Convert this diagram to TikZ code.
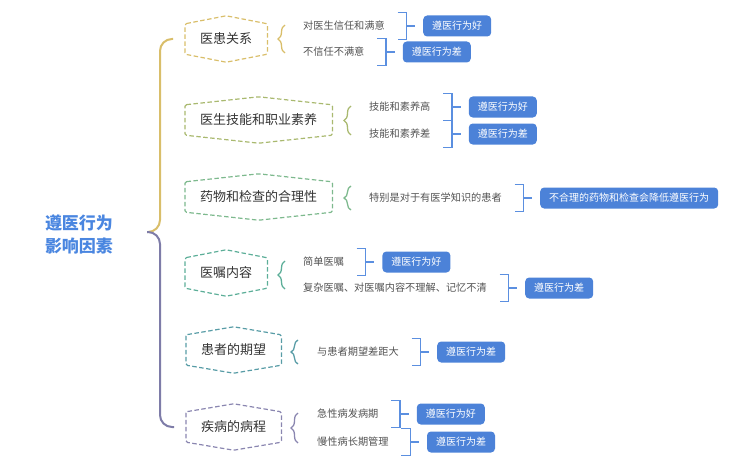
\documentclass[tikz,border=0pt]{standalone}
\usepackage{fontspec}
\newfontfamily\cjk{Noto Sans CJK SC}
\usetikzlibrary{positioning,calc,decorations.pathreplacing}

\definecolor{rootblue}{HTML}{4A86E0}
\definecolor{boxblue}{HTML}{4C82D8}
\definecolor{linkblue}{HTML}{5B8FE0}
\definecolor{relC}{HTML}{D9BE6A}
\definecolor{skillC}{HTML}{A9B96F}
\definecolor{drugC}{HTML}{7DB98D}
\definecolor{orderC}{HTML}{5CAE98}
\definecolor{hopeC}{HTML}{589CA6}
\definecolor{courseC}{HTML}{8A86B0}
\definecolor{spineC}{HTML}{7E7CA8}

\tikzset{
  factor/.style={font=\cjk\fontsize{13}{15}\selectfont, text=black!80, inner xsep=15pt, inner ysep=0pt, minimum height=46pt, anchor=west},
  reason/.style={font=\cjk\fontsize{10.2}{12}\selectfont, text=black!68, inner sep=0pt, anchor=west},
  result/.style={font=\cjk\fontsize{10}{12}\selectfont, text=white, fill=boxblue, rounded corners=4pt, inner xsep=9pt, inner ysep=0pt, minimum height=21pt, right=38pt of #1},
  hexline/.style={dash pattern=on 4.5pt off 2.5pt, line width=1.2pt, rounded corners=1.5pt},
  curly/.style={decorate, decoration={brace, amplitude=7pt}, line width=1.3pt},
  bracket/.style={draw=linkblue, line width=1.4pt},
}

\newcommand\hexframe[2]{\draw[hexline,#2] ([yshift=-8pt]#1.north west) -- (#1.north) -- ([yshift=-8pt]#1.north east) -- ([yshift=8pt]#1.south east) -- (#1.south) -- ([yshift=8pt]#1.south west) -- cycle;}
\newcommand\linkto[2]{\draw[bracket] ($(#1.east)+(12.5,-13.5)$) -- ++(9,0) -- ++(0,27) -- ++(-9,0);
  \draw[bracket] ($(#1.east)+(21.5,0)$) -- ($(#2.west)+(-8,0)$);}

\begin{document}
\begin{tikzpicture}[x=1pt,y=-1pt]
  \useasboundingbox (0,0) rectangle (750,460);

  % root and spine
  \node[font=\cjk\bfseries\fontsize{17}{23}\selectfont, text=rootblue, align=center] (root) at (79,234) {遵医行为\\影响因素};
  \coordinate (hub) at (147,232);

  \node[factor] (b1) at (185,39) {医患关系};
  \node[factor] (b2) at (185,120) {医生技能和职业素养};
  \node[factor] (b3) at (185,197) {药物和检查的合理性};
  \node[factor] (b4) at (185,273) {医嘱内容};
  \node[factor] (b5) at (186,350) {患者的期望};
  \node[factor] (b6) at (186,427) {疾病的病程};

  \draw[relC, line width=2pt, rounded corners=12pt] ([xshift=-12pt]b1.west) -| ($(hub)+(13,0)$) -- (hub);
  \draw[spineC, line width=2pt, rounded corners=12pt] (hub) -- ($(hub)+(13,0)$) |- ([xshift=-12pt]b6.west);

  \hexframe{b1}{relC}
  \hexframe{b2}{skillC}
  \hexframe{b3}{drugC}
  \hexframe{b4}{orderC}
  \hexframe{b5}{hopeC}
  \hexframe{b6}{courseC}

  % reasons
  \node[reason] (l1a) at (303,26) {对医生信任和满意};
  \node[reason] (l1b) at (303,52) {不信任不满意};
  \node[reason] (l2a) at (369,107) {技能和素养高};
  \node[reason] (l2b) at (369,134) {技能和素养差};
  \node[reason] (l3) at (369,198) {特别是对于有医学知识的患者};
  \node[reason] (l4a) at (303,262) {简单医嘱};
  \node[reason] (l4b) at (303,288) {复杂医嘱、对医嘱内容不理解、记忆不清};
  \node[reason] (l5) at (317,352) {与患者期望差距大};
  \node[reason] (l6a) at (317,414) {急性病发病期};
  \node[reason] (l6b) at (317,442) {慢性病长期管理};

  \draw[curly, relC] ([xshift=-18pt,yshift=-1pt]l1b.west) -- ([xshift=-18pt,yshift=1pt]l1a.west);
  \draw[curly, skillC] ([xshift=-18pt,yshift=-1pt]l2b.west) -- ([xshift=-18pt,yshift=1pt]l2a.west);
  \draw[curly, drugC] ([xshift=-18pt,yshift=-12pt]l3.west) -- ([xshift=-18pt,yshift=12pt]l3.west);
  \draw[curly, orderC] ([xshift=-18pt,yshift=-1pt]l4b.west) -- ([xshift=-18pt,yshift=1pt]l4a.west);
  \draw[curly, hopeC] ([xshift=-19pt,yshift=-12pt]l5.west) -- ([xshift=-19pt,yshift=12pt]l5.west);
  \draw[curly, courseC] ([xshift=-19pt,yshift=-1pt]l6b.west) -- ([xshift=-19pt,yshift=1pt]l6a.west);

  % results
  \node[result=l1a] (r1a) {遵医行为好};
  \node[result=l1b] (r1b) {遵医行为差};
  \node[result=l2a] (r2a) {遵医行为好};
  \node[result=l2b] (r2b) {遵医行为差};
  \node[result=l3] (r3) {不合理的药物和检查会降低遵医行为};
  \node[result=l4a] (r4a) {遵医行为好};
  \node[result=l4b] (r4b) {遵医行为差};
  \node[result=l5] (r5) {遵医行为差};
  \node[result=l6a] (r6a) {遵医行为好};
  \node[result=l6b] (r6b) {遵医行为差};

  \linkto{l1a}{r1a}
  \linkto{l1b}{r1b}
  \linkto{l2a}{r2a}
  \linkto{l2b}{r2b}
  \linkto{l3}{r3}
  \linkto{l4a}{r4a}
  \linkto{l4b}{r4b}
  \linkto{l5}{r5}
  \linkto{l6a}{r6a}
  \linkto{l6b}{r6b}
\end{tikzpicture}
\end{document}
